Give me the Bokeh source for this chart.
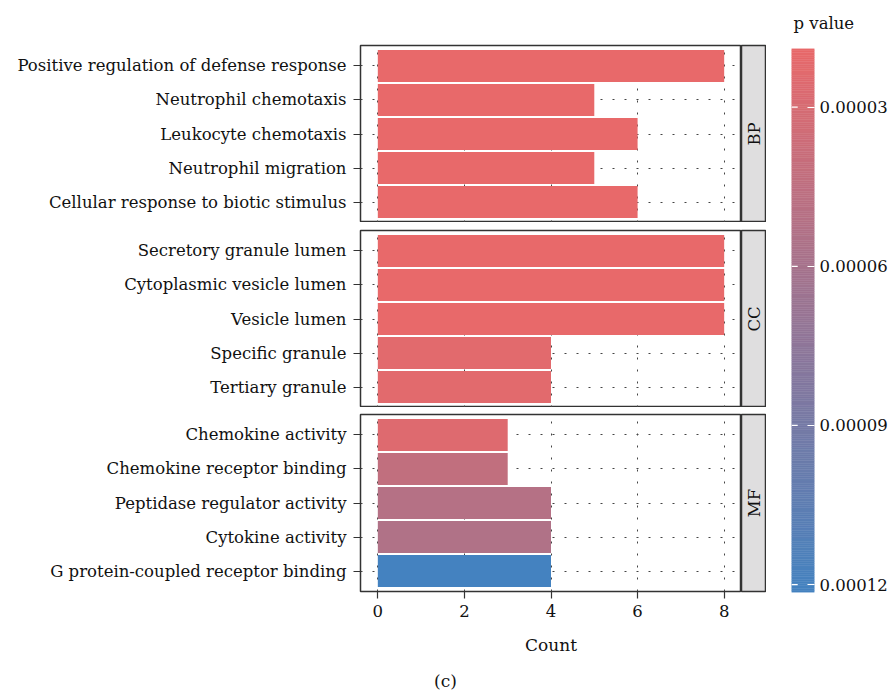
import numpy as np
from bokeh.plotting import figure
from bokeh.layouts import row, column
from bokeh.models import Range1d, FixedTicker, ColumnDataSource, LinearAxis
from bokeh.transform import linear_cmap
from bokeh.core.properties import value
from bokeh.embed import file_html
from bokeh.resources import INLINE

# ---------------- data ----------------
groups = ["BP", "CC", "MF"]
terms_bp = ["Positive regulation of defense response", "Neutrophil chemotaxis",
            "Leukocyte chemotaxis", "Neutrophil migration",
            "Cellular response to biotic stimulus"]
count_bp = [8, 5, 6, 5, 6]
p_bp = [1.894e-5, 1.90e-5, 1.90e-5, 1.91e-5, 1.92e-5]

terms_cc = ["Secretory granule lumen", "Cytoplasmic vesicle lumen", "Vesicle lumen",
            "Specific granule", "Tertiary granule"]
count_cc = [8, 8, 8, 4, 4]
p_cc = [1.90e-5, 1.90e-5, 1.90e-5, 2.3e-5, 2.3e-5]

terms_mf = ["Chemokine activity", "Chemokine receptor binding",
            "Peptidase regulator activity", "Cytokine activity",
            "G protein-coupled receptor binding"]
count_mf = [3, 3, 4, 4, 4]
p_mf = [2.5e-5, 4.33e-5, 5.07e-5, 5.38e-5, 1.215e-4]

x_ticks = [0, 2, 4, 6, 8]
cbar_ticks = [3e-5, 6e-5, 9e-5, 1.2e-4]

LOW_COLOR = "#E8696A"
HIGH_COLOR = "#4482C0"
FONT = "DejaVu Serif"
TXT = "#111111"
FS = "16.5px"

# ------------- gradient palette (linear RGB between the two end colours) -------------
def hex_to_rgb(h):
    h = h.lstrip("#")
    return np.array([int(h[i:i + 2], 16) for i in (0, 2, 4)], dtype=float)

c_lo, c_hi = hex_to_rgb(LOW_COLOR), hex_to_rgb(HIGH_COLOR)
palette = ["#%02x%02x%02x" % tuple(int(round(v)) for v in (c_lo + (c_hi - c_lo) * t))
           for t in np.linspace(0, 1, 256)]

all_p = p_bp + p_cc + p_mf
pmin, pmax = min(all_p), max(all_p)
cmap = lambda field: linear_cmap(field, palette, low=pmin, high=pmax)

xr = Range1d(-0.4, 8.4)

PANEL_H = 177
BOTTOM = 74


def style_text_axis(ax, size=FS):
    ax.major_label_text_font = FONT
    ax.major_label_text_font_size = size
    ax.major_label_text_color = TXT


def panel(terms, counts, pvals, group, top_border, bottom_axis):
    n = len(terms)
    ys = list(np.arange(n, 0, -1).astype(float))
    h = top_border + PANEL_H + (BOTTOM if bottom_axis else 0)
    p = figure(width=741, height=h, x_range=xr, y_range=Range1d(0.4, n + 0.6),
               output_backend="svg", toolbar_location=None,
               x_axis_location="below" if bottom_axis else None,
               min_border_left=360, min_border_right=0,
               min_border_top=top_border,
               min_border_bottom=BOTTOM if bottom_axis else 0)
    src = ColumnDataSource(dict(y=ys, count=counts, p=pvals, term=terms))
    p.hbar(y="y", right="count", left=0, height=0.94, source=src,
           fill_color=cmap("p"), line_color=None)
    p.outline_line_color = "#333333"
    p.outline_line_width = 1.5
    p.background_fill_color = "white"
    # grid
    p.xgrid.ticker = FixedTicker(ticks=x_ticks)
    p.ygrid.ticker = FixedTicker(ticks=ys)
    for g in (p.xgrid, p.ygrid):
        g.grid_line_color = "#444444"
        g.grid_line_dash = "2 10"
        g.grid_line_width = 1
    # y axis
    ya = p.yaxis[0]
    ya.ticker = FixedTicker(ticks=ys)
    ya.major_label_overrides = {y: t for y, t in zip(ys, terms)}
    ya.axis_line_color = None
    ya.major_tick_out = 7
    ya.major_tick_in = 0
    ya.major_tick_line_color = "#333333"
    ya.major_tick_line_width = 1.2
    ya.minor_tick_line_color = None
    ya.major_label_standoff = 7
    style_text_axis(ya)
    if bottom_axis:
        xa = p.xaxis[0]
        xa.ticker = FixedTicker(ticks=x_ticks)
        xa.axis_line_color = None
        xa.major_tick_out = 7
        xa.major_tick_in = 0
        xa.major_tick_line_color = "#333333"
        xa.major_tick_line_width = 1.2
        xa.minor_tick_line_color = None
        xa.major_label_standoff = 6
        style_text_axis(xa)
        xa.axis_label = "Count"
        xa.axis_label_text_font = FONT
        xa.axis_label_text_font_size = "17px"
        xa.axis_label_text_font_style = "normal"
        xa.axis_label_text_color = TXT
        xa.axis_label_standoff = 15

    s = figure(width=25, height=h, x_range=Range1d(0, 1), y_range=Range1d(0, 1),
               output_backend="svg", toolbar_location=None,
               x_axis_location=None, y_axis_location=None,
               min_border_left=0, min_border_right=0, min_border_top=top_border,
               min_border_bottom=BOTTOM if bottom_axis else 0)
    s.grid.visible = False
    s.background_fill_color = "#DFDEDF"
    s.outline_line_color = "#333333"
    s.outline_line_width = 1.5
    s.text(x=[0.5], y=[0.5], text=[group], angle=np.pi / 2,
           text_align="center", text_baseline="middle",
           text_font=value(FONT), text_font_size=FS, text_color=TXT)
    return row(p, s, spacing=0)


r_bp = panel(terms_bp, count_bp, p_bp, groups[0], 45, False)
r_cc = panel(terms_cc, count_cc, p_cc, groups[1], 8, False)
r_mf = panel(terms_mf, count_mf, p_mf, groups[2], 7, True)
left = column(r_bp, r_cc, r_mf, spacing=0)

# ---------------- colour bar ----------------
TOTAL_H = 45 + PANEL_H + 8 + PANEL_H + 7 + PANEL_H + BOTTOM
cb = figure(width=124, height=TOTAL_H, x_range=Range1d(0, 1),
            y_range=Range1d(start=pmax, end=pmin),
            output_backend="svg", toolbar_location=None,
            x_axis_location=None, y_axis_location=None,
            min_border_left=25, min_border_right=73,
            min_border_top=45, min_border_bottom=TOTAL_H - 592)
cb.grid.visible = False
cb.outline_line_color = None
edges = np.linspace(pmin, pmax, 301)
mids = (edges[:-1] + edges[1:]) / 2
cb.quad(left=0, right=1, bottom="b", top="t",
        source=ColumnDataSource(dict(b=edges[:-1], t=edges[1:], m=mids)),
        fill_color=cmap("m"), line_color=cmap("m"), line_width=0.5)
# left-hand tick dashes (white, inside the bar)
cb.segment(x0=0, x1=0.27, y0="t", y1="t",
           source=ColumnDataSource(dict(t=cbar_ticks)),
           line_color="white", line_width=1.2)
ax = LinearAxis(ticker=FixedTicker(ticks=cbar_ticks))
ax.axis_line_color = None
ax.major_tick_in = 7
ax.major_tick_out = 0
ax.major_tick_line_color = "white"
ax.major_tick_line_width = 1.2
ax.minor_tick_line_color = None
ax.major_label_overrides = {t: "%.5f" % t for t in cbar_ticks}
ax.major_label_standoff = 5
style_text_axis(ax)
cb.add_layout(ax, "right")
cb.title.text = "p value"
cb.title.text_font = FONT
cb.title.text_font_size = FS
cb.title.text_font_style = "normal"
cb.title.text_color = TXT
cb.title.align = "left"
cb.title.vertical_align = "top"
cb.title.offset = 2
cb.title.standoff = 27

top = row(left, cb, spacing=0)

# ---------------- caption ----------------
cap = figure(width=890, height=694 - TOTAL_H, x_range=Range1d(0, 1), y_range=Range1d(0, 1),
             output_backend="svg", toolbar_location=None,
             x_axis_location=None, y_axis_location=None,
             min_border_left=0, min_border_right=0, min_border_top=0, min_border_bottom=0)
cap.grid.visible = False
cap.outline_line_color = None
cap.text(x=[0.5], y=[0.45], text=["(c)"], text_align="center", text_baseline="middle",
         text_font=value(FONT), text_font_size="17px", text_color=TXT)

layout = column(top, cap, spacing=0)
open("out.html", "w").write(file_html(layout, INLINE))
